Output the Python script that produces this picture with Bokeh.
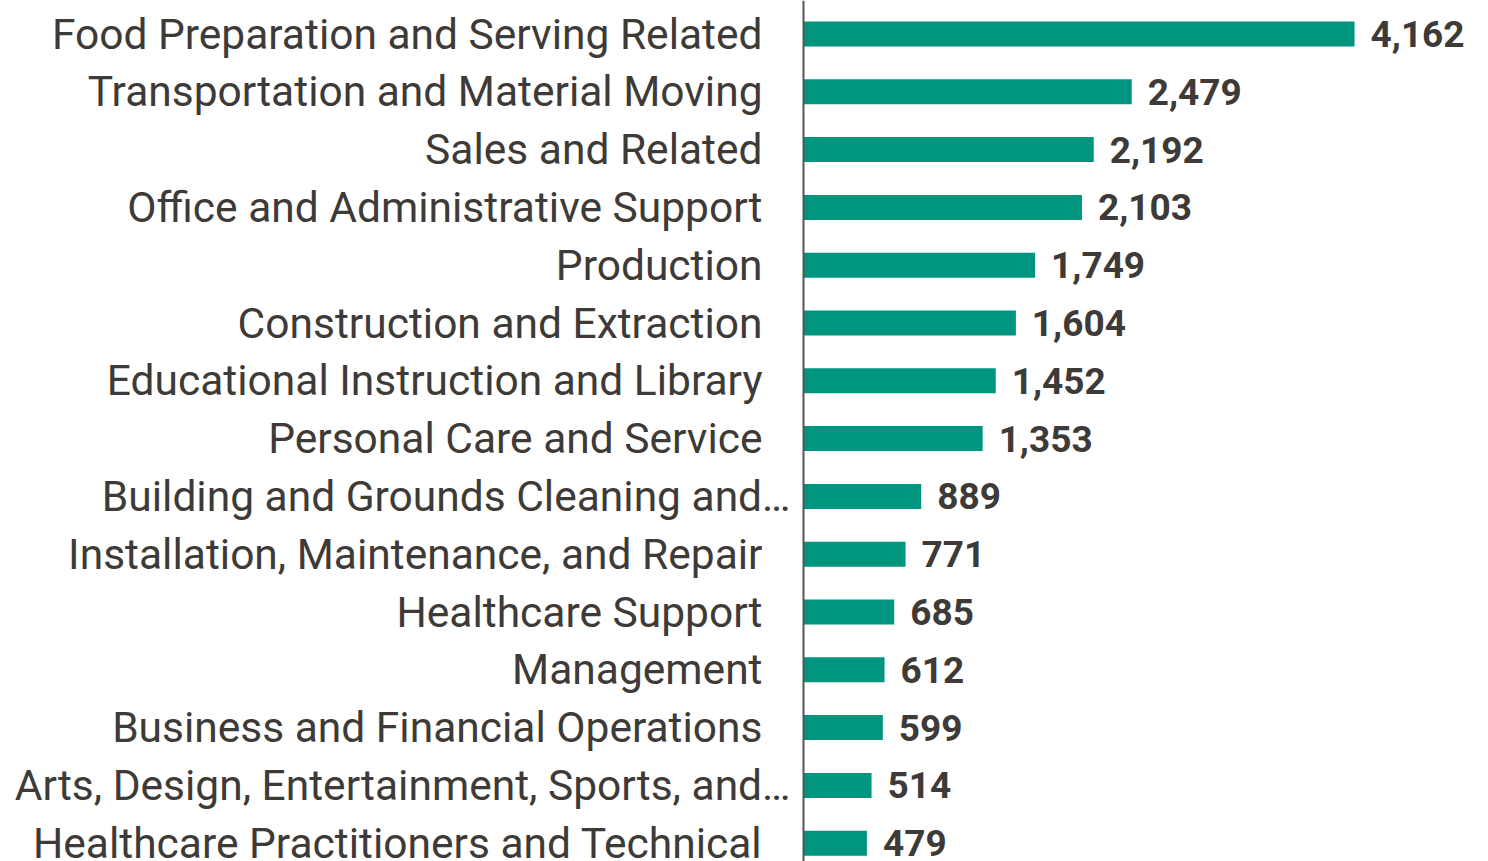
from bokeh.plotting import figure
from bokeh.models import ColumnDataSource, Range1d, Span
from bokeh.core.properties import value
from bokeh.embed import file_html
from bokeh.resources import INLINE

categories = [
    "Food Preparation and Serving Related",
    "Transportation and Material Moving",
    "Sales and Related",
    "Office and Administrative Support",
    "Production",
    "Construction and Extraction",
    "Educational Instruction and Library",
    "Personal Care and Service",
    "Building and Grounds Cleaning and…",
    "Installation, Maintenance, and Repair",
    "Healthcare Support",
    "Management",
    "Business and Financial Operations",
    "Arts, Design, Entertainment, Sports, and…",
    "Healthcare Practitioners and Technical",
]
values = [4162, 2479, 2192, 2103, 1749, 1604, 1452, 1353, 889, 771, 685, 612, 599, 514, 479]
truncated = [c.endswith("…") for c in categories]

BAR = "#00957F"
TXT = "#3D3A37"

W, H = 1480, 861
px_per_unit = 0.1324
zero_px = 803  # x of zero within canvas
row = 57.8
first_center = 33.5  # within canvas

idx = list(range(len(categories)))
src = ColumnDataSource(dict(
    y=idx, v=values, cat=categories,
    lab=[f"{v:,}" for v in values],
))
full = ColumnDataSource(dict(
    y=[i for i in idx if not truncated[i]],
    cat=[categories[i] for i in idx if not truncated[i]],
))
trunc = ColumnDataSource(dict(
    y=[i for i in idx if truncated[i]],
    cat=[categories[i] for i in idx if truncated[i]],
))

x_start = -zero_px / px_per_unit
x_end = (W - zero_px) / px_per_unit
y_top = -first_center / row
y_bot = (H - first_center) / row

p = figure(width=W, height=H, output_backend="svg", toolbar_location=None,
           x_range=Range1d(x_start, x_end), y_range=Range1d(y_bot, y_top),
           min_border=0, min_border_left=0, min_border_right=0,
           min_border_top=0, min_border_bottom=0)
p.xaxis.visible = False
p.yaxis.visible = False
p.grid.visible = False
p.outline_line_color = None
p.background_fill_color = "white"
p.border_fill_color = "white"

p.hbar(y="y", right="v", left=0, height=25 / row, source=src,
       fill_color=BAR, line_color=None)

p.text(x=0, y="y", text="cat", source=full, x_offset=-41,
       text_align="right", text_baseline="middle",
       text_font=value("Roboto"), text_font_size="42.5px", text_color=TXT)
p.text(x=0, y="y", text="cat", source=trunc, x_offset=-13,
       text_align="right", text_baseline="middle",
       text_font=value("Roboto"), text_font_size="42.5px", text_color=TXT)

p.text(x="v", y="y", text="lab", source=src, x_offset=16,
       text_align="left", text_baseline="middle",
       text_font=value("Roboto"), text_font_size="37px", text_font_style="bold",
       text_color=TXT)

p.add_layout(Span(location=0, dimension="height", line_color="#555555", line_width=2))

open("out.html", "w").write(file_html(p, INLINE))
